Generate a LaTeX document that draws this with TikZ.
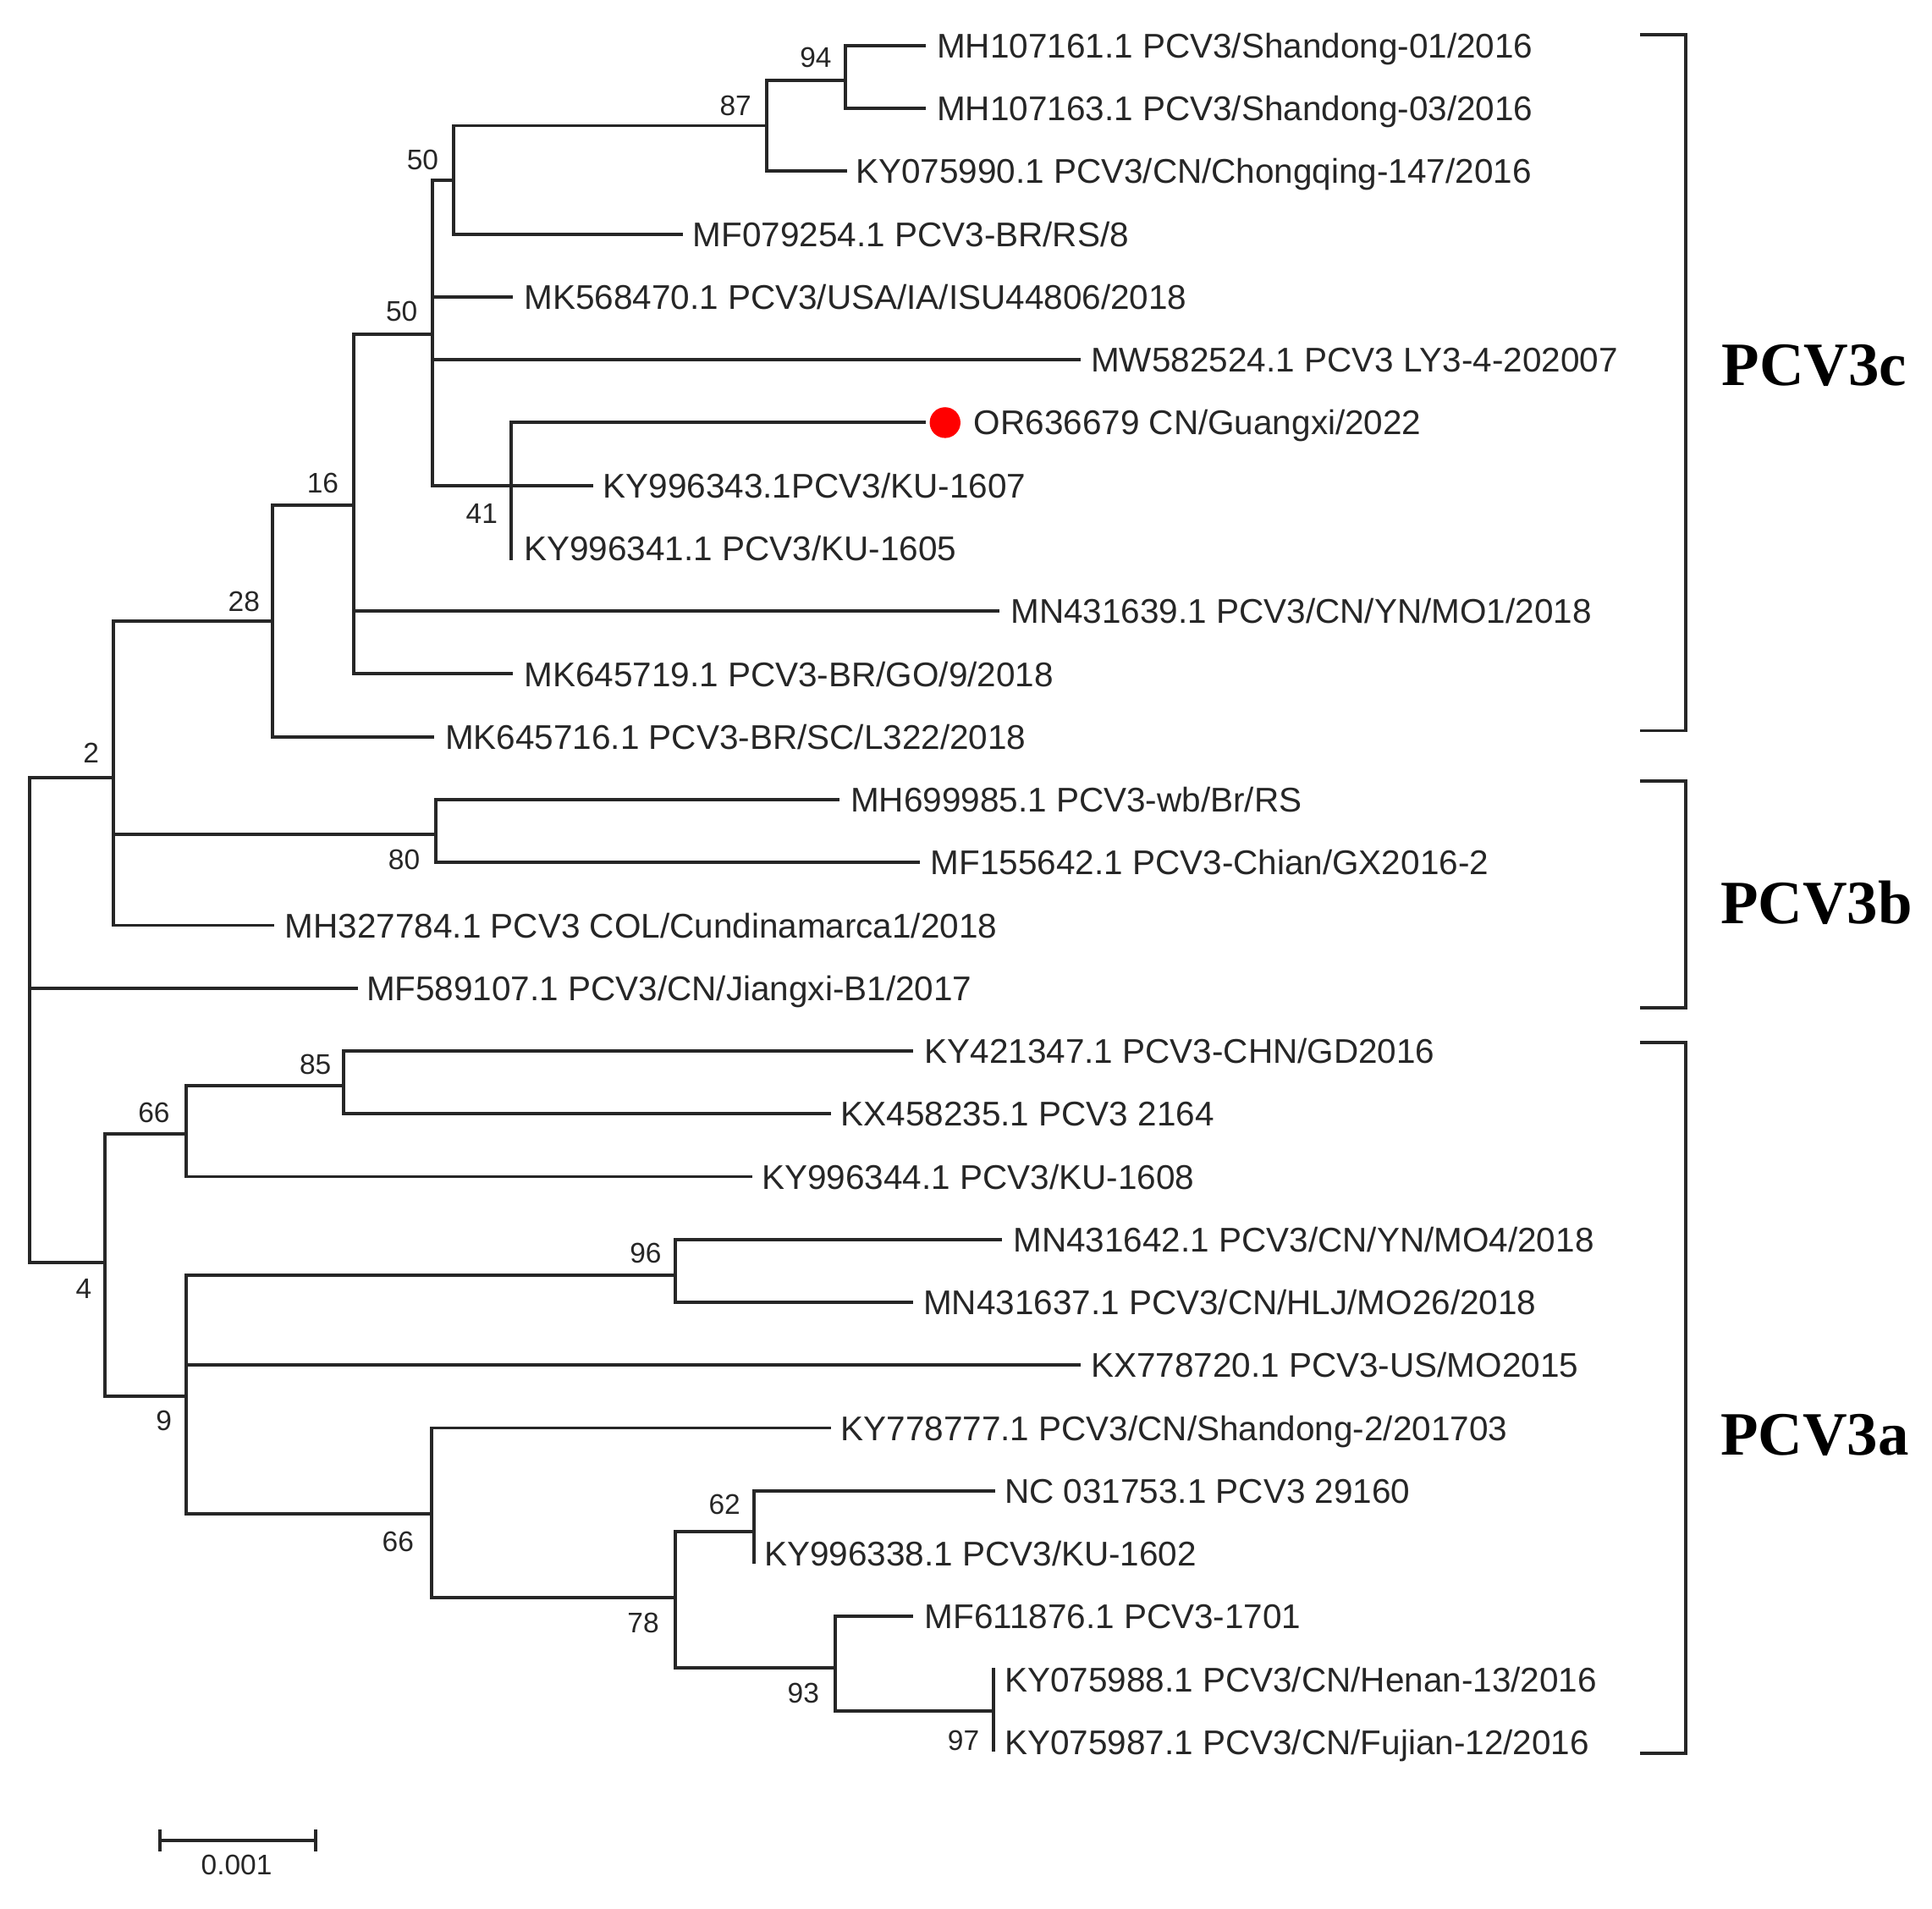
\documentclass[tikz,border=0pt]{standalone}
\usepackage{fontspec}
\setmainfont{Liberation Sans}
\newfontfamily\cladefont{Liberation Serif}
\begin{document}
\begin{tikzpicture}[x=0.5pt,y=-0.5pt,
  tree/.style={line width=1.35pt, line cap=rect, draw=black!85},
  brk/.style={line width=1.25pt, draw=black!85},
  leaf/.style={anchor=base west, inner sep=0pt, text=black!85, font=\fontsize{13.9}{16}\selectfont},
  boot/.style={inner sep=0pt, text=black!85, font=\fontsize{11.5}{13}\selectfont},
  clade/.style={anchor=west, inner sep=0pt, font=\cladefont\bfseries\fontsize{25}{30}\selectfont}]
\useasboundingbox (0,0) rectangle (1568,1549);

% ---------- leaf tips ----------
\coordinate (l0) at (750,37);
\coordinate (l1) at (750,88);
\coordinate (l2) at (686,139);
\coordinate (l3) at (553,190);
\coordinate (l4) at (415,241);
\coordinate (l5) at (876,292);
\coordinate (l6) at (750,343);
\coordinate (l7) at (480,394);
\coordinate (l8) at (415,445);
\coordinate (l9) at (810,496);
\coordinate (l10) at (415,547);
\coordinate (l11) at (351,598);
\coordinate (l12) at (680,649);
\coordinate (l13) at (745,700);
\coordinate (l14) at (221,751);
\coordinate (l15) at (289,802);
\coordinate (l16) at (740,853);
\coordinate (l17) at (673,904);
\coordinate (l18) at (609,955);
\coordinate (l19) at (812,1006);
\coordinate (l20) at (740,1057);
\coordinate (l21) at (876,1108);
\coordinate (l22) at (673,1159);
\coordinate (l23) at (806,1210);
\coordinate (l24) at (612,1261);
\coordinate (l25) at (740,1312);
\coordinate (l26) at (806,1363);
\coordinate (l27) at (806,1414);

% ---------- internal nodes ----------
\coordinate (n94) at (686,65);
\coordinate (n87) at (622,102);
\coordinate (n50a) at (368,146);
\coordinate (n41) at (415,394);
\coordinate (n50b) at (351,271);
\coordinate (n16) at (287,410);
\coordinate (n28) at (221,504);
\coordinate (n80) at (354,677);
\coordinate (n2) at (92,631);
\coordinate (root) at (24,828);
\coordinate (n85) at (279,881);
\coordinate (n66a) at (151,920);
\coordinate (n96) at (548,1035);
\coordinate (n62) at (612,1243);
\coordinate (n97) at (806,1389);
\coordinate (n93) at (678,1354);
\coordinate (n78) at (548,1297);
\coordinate (n66b) at (350,1229);
\coordinate (n9) at (151,1133);
\coordinate (n4) at (85,1025);

% ---------- branches ----------
\begin{scope}[tree]
% n94
\draw (n94 |- l0) -- (n94 |- l1);
\draw (n94 |- l0) -- (l0);
\draw (n94 |- l1) -- (l1);
% n87
\draw (n87 |- n94) -- (n87 |- l2);
\draw (n87 |- n94) -- (n94);
\draw (n87 |- l2) -- (l2);
% n50a
\draw (n50a |- n87) -- (n50a |- l3);
\draw (n50a |- n87) -- (n87);
\draw (n50a |- l3) -- (l3);
% n41
\draw (n41 |- l6) -- ([yshift=-4pt]n41 |- l8);
\draw (n41 |- l6) -- (l6);
% n50b
\draw (n50b |- n50a) -- (n50b |- l7);
\draw (n50b |- n50a) -- (n50a);
\draw (n50b |- l4) -- (l4);
\draw (n50b |- l5) -- (l5);
\draw (n50b |- l7) -- (l7);
% n16
\draw (n16 |- n50b) -- (n16 |- l10);
\draw (n16 |- n50b) -- (n50b);
\draw (n16 |- l9) -- (l9);
\draw (n16 |- l10) -- (l10);
% n28
\draw (n28 |- n16) -- (n28 |- l11);
\draw (n28 |- n16) -- (n16);
\draw (n28 |- l11) -- (l11);
% n80
\draw (n80 |- l12) -- (n80 |- l13);
\draw (n80 |- l12) -- (l12);
\draw (n80 |- l13) -- (l13);
% n2
\draw (n2 |- n28) -- (n2 |- l14);
\draw (n2 |- n28) -- (n28);
\draw (n2 |- n80) -- (n80);
\draw (n2 |- l14) -- (l14);
% root
\draw (root |- n2) -- (root |- n4);
\draw (root |- n2) -- (n2);
\draw (root |- l15) -- (l15);
\draw (root |- n4) -- (n4);
% n85
\draw (n85 |- l16) -- (n85 |- l17);
\draw (n85 |- l16) -- (l16);
\draw (n85 |- l17) -- (l17);
% n66a
\draw (n66a |- n85) -- (n66a |- l18);
\draw (n66a |- n85) -- (n85);
\draw (n66a |- l18) -- (l18);
% n96
\draw (n96 |- l19) -- (n96 |- l20);
\draw (n96 |- l19) -- (l19);
\draw (n96 |- l20) -- (l20);
% n62
\draw (n62 |- l23) -- ([yshift=-3.5pt]n62 |- l24);
\draw (n62 |- l23) -- (l23);
% n97
\draw ([yshift=4pt]n97 |- l26) -- ([yshift=-3pt]n97 |- l27);
% n93
\draw (n93 |- l25) -- (n93 |- n97);
\draw (n93 |- l25) -- (l25);
\draw (n93 |- n97) -- (n97);
% n78
\draw (n78 |- n62) -- (n78 |- n93);
\draw (n78 |- n62) -- (n62);
\draw (n78 |- n93) -- (n93);
% n66b
\draw (n66b |- l22) -- (n66b |- n78);
\draw (n66b |- l22) -- (l22);
\draw (n66b |- n78) -- (n78);
% n9
\draw (n9 |- n96) -- (n9 |- n66b);
\draw (n9 |- n96) -- (n96);
\draw (n9 |- l21) -- (l21);
\draw (n9 |- n66b) -- (n66b);
% n4
\draw (n4 |- n66a) -- (n4 |- n9);
\draw (n4 |- n66a) -- (n66a);
\draw (n4 |- n9) -- (n9);
\end{scope}

% ---------- red marker ----------
\node[circle, fill=red, inner sep=0pt, minimum size=12.5pt] (dot) at (767,343) {};

% ---------- leaf labels ----------
\node[leaf] (t0) at (760,47) {MH107161.1 PCV3/Shandong-01/2016};
\node[leaf] (t1) at (760,98) {MH107163.1 PCV3/Shandong-03/2016};
\node[leaf] (t2) at (694,149) {KY075990.1 PCV3/CN/Chongqing-147/2016};
\node[leaf] (t3) at (562,200) {MF079254.1 PCV3-BR/RS/8};
\node[leaf] (t4) at (425,251) {MK568470.1 PCV3/USA/IA/ISU44806/2018};
\node[leaf] (t5) at (885,302) {MW582524.1 PCV3 LY3-4-202007};
\node[leaf] (t6) at (790,353) {OR636679 CN/Guangxi/2022};
\node[leaf] (t7) at (489,404) {KY996343.1PCV3/KU-1607};
\node[leaf] (t8) at (425,455) {KY996341.1 PCV3/KU-1605};
\node[leaf] (t9) at (820,506) {MN431639.1 PCV3/CN/YN/MO1/2018};
\node[leaf] (t10) at (425,557) {MK645719.1 PCV3-BR/GO/9/2018};
\node[leaf] (t11) at (361,608) {MK645716.1 PCV3-BR/SC/L322/2018};
\node[leaf] (t12) at (690,659) {MH699985.1 PCV3-wb/Br/RS};
\node[leaf] (t13) at (755,710) {MF155642.1 PCV3-Chian/GX2016-2};
\node[leaf] (t14) at (231,761) {MH327784.1 PCV3 COL/Cundinamarca1/2018};
\node[leaf] (t15) at (297,812) {MF589107.1 PCV3/CN/Jiangxi-B1/2017};
\node[leaf] (t16) at (750,863) {KY421347.1 PCV3-CHN/GD2016};
\node[leaf] (t17) at (682,914) {KX458235.1 PCV3 2164};
\node[leaf] (t18) at (618,965) {KY996344.1 PCV3/KU-1608};
\node[leaf] (t19) at (822,1016) {MN431642.1 PCV3/CN/YN/MO4/2018};
\node[leaf] (t20) at (749,1067) {MN431637.1 PCV3/CN/HLJ/MO26/2018};
\node[leaf] (t21) at (885,1118) {KX778720.1 PCV3-US/MO2015};
\node[leaf] (t22) at (682,1169) {KY778777.1 PCV3/CN/Shandong-2/201703};
\node[leaf] (t23) at (815,1220) {NC 031753.1 PCV3 29160};
\node[leaf] (t24) at (620,1271) {KY996338.1 PCV3/KU-1602};
\node[leaf] (t25) at (750,1322) {MF611876.1 PCV3-1701};
\node[leaf] (t26) at (815,1373) {KY075988.1 PCV3/CN/Henan-13/2016};
\node[leaf] (t27) at (815,1424) {KY075987.1 PCV3/CN/Fujian-12/2016};

% ---------- bootstrap values ----------
\node[boot] (b94) at (662,47) {94};
\node[boot] (b87) at (597,86) {87};
\node[boot] (b50a) at (343,130) {50};
\node[boot] (b50b) at (326,253) {50};
\node[boot] (b41) at (391,417) {41};
\node[boot] (b16) at (262,392) {16};
\node[boot] (b28) at (198,488) {28};
\node[boot] (b2) at (74,611) {2};
\node[boot] (b80) at (328,698) {80};
\node[boot] (b85) at (256,864) {85};
\node[boot] (b66a) at (125,903) {66};
\node[boot] (b4) at (68,1046) {4};
\node[boot] (b96) at (524,1017) {96};
\node[boot] (b9) at (133,1153) {9};
\node[boot] (b62) at (588,1221) {62};
\node[boot] (b66b) at (323,1251) {66};
\node[boot] (b78) at (522,1317) {78};
\node[boot] (b93) at (652,1374) {93};
\node[boot] (b97) at (782,1413) {97};

% ---------- clade brackets ----------
\coordinate (c1) at (1331,28);  \coordinate (c2) at (1331,593);
\coordinate (b1) at (1331,634); \coordinate (b2) at (1331,818);
\coordinate (a1) at (1331,846); \coordinate (a2) at (1331,1423);
\draw[brk] (c1) -- ++(37,0) |- (c2);
\draw[brk] (b1) -- ++(37,0) |- (b2);
\draw[brk] (a1) -- ++(37,0) |- (a2);
\node[clade] (lc) at (1397,297) {PCV3c};
\node[clade] (lb) at (1396,733) {PCV3b};
\node[clade] (la) at (1396,1165) {PCV3a};

% ---------- scale bar ----------
\coordinate (s1) at (130,1494);
\coordinate (s2) at (256,1494);
\draw[tree, line cap=butt] (s1) -- (s2);
\draw[tree, line cap=butt] ([yshift=4.5pt]s1) -- ([yshift=-4.5pt]s1);
\draw[tree, line cap=butt] ([yshift=4.5pt]s2) -- ([yshift=-4.5pt]s2);
\node[boot] (scl) at (192,1514) {0.001};
\end{tikzpicture}
\end{document}
